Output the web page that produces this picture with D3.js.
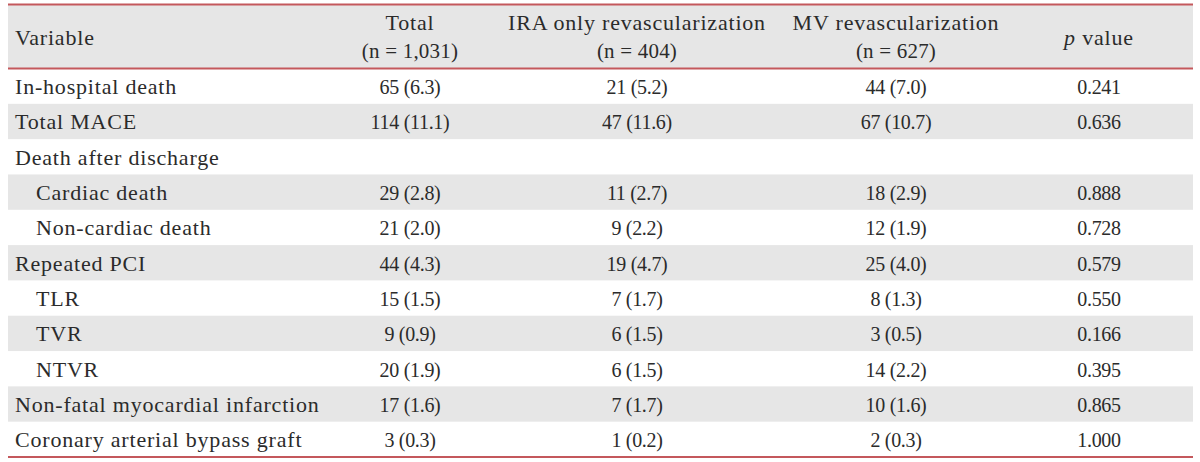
<!DOCTYPE html>
<html>
<head>
<meta charset="utf-8">
<script src="https://cdn.jsdelivr.net/npm/d3@7"></script>
<style>
  html, body { margin: 0; padding: 0; background: #ffffff; }
  svg { display: block; }
</style>
</head>
<body>
<svg id="chart" width="1200" height="462"></svg>
<script>
// ---- data ----
const headers = ["Variable", "Total", "IRA only revascularization", "MV revascularization", "p value"];
const headerSub = ["", "(n = 1,031)", "(n = 404)", "(n = 627)", ""];
const variables = [
  "In-hospital death", "Total MACE", "Death after discharge", "Cardiac death",
  "Non-cardiac death", "Repeated PCI", "TLR", "TVR", "NTVR",
  "Non-fatal myocardial infarction", "Coronary arterial bypass graft"
];
const indentLevel = [0, 0, 0, 1, 1, 0, 1, 1, 1, 0, 0];
const totalVals = ["65 (6.3)", "114 (11.1)", "", "29 (2.8)", "21 (2.0)", "44 (4.3)", "15 (1.5)", "9 (0.9)", "20 (1.9)", "17 (1.6)", "3 (0.3)"];
const iraVals   = ["21 (5.2)", "47 (11.6)", "", "11 (2.7)", "9 (2.2)", "19 (4.7)", "7 (1.7)", "6 (1.5)", "6 (1.5)", "7 (1.7)", "1 (0.2)"];
const mvVals    = ["44 (7.0)", "67 (10.7)", "", "18 (2.9)", "12 (1.9)", "25 (4.0)", "8 (1.3)", "3 (0.5)", "14 (2.2)", "10 (1.6)", "2 (0.3)"];
const pVals     = ["0.241", "0.636", "", "0.888", "0.728", "0.579", "0.550", "0.166", "0.395", "0.865", "1.000"];

// ---- layout ----
const svg = d3.select("#chart");
const left = 8, right = 1193;
const headTop = 4.5, headBottom = 68.5, tableBottom = 457;
const fontFam = "'Liberation Serif', 'Times New Roman', serif";
const fontSize = 22;
const numSize = 20;
const letterSp = 0.8;
const textColor = "#2b2b2b";
const lineColor = "#c4585c";
const shade = "#e6e6e6";

const rowIdx = d3.range(variables.length);
const y = d3.scaleBand().domain(rowIdx).range([headBottom, tableBottom]).padding(0);

const colKeys = ["total", "ira", "mv", "p"];
const colX = d3.scaleOrdinal().domain(colKeys).range([410, 637, 896, 1099]);
const colData = { total: totalVals, ira: iraVals, mv: mvVals, p: pVals };

// header background
svg.append("rect").attr("x", left).attr("y", headTop).attr("width", right - left)
  .attr("height", headBottom - headTop).attr("fill", shade);

// row backgrounds
svg.append("g").selectAll("rect").data(rowIdx.filter(i => i % 2 === 1)).join("rect")
  .attr("x", left).attr("width", right - left)
  .attr("y", i => y(i)).attr("height", y.bandwidth())
  .attr("fill", shade);

// lines
[headTop, headBottom, tableBottom].forEach(yy => {
  svg.append("line").attr("x1", left).attr("x2", right).attr("y1", yy).attr("y2", yy)
    .attr("stroke", lineColor).attr("stroke-width", 2);
});

const txt = (g) => g.attr("font-family", fontFam).attr("font-size", fontSize)
  .attr("fill", textColor).attr("letter-spacing", letterSp);

// header text
const hg = svg.append("g").call(txt);
hg.append("text").attr("x", 15).attr("y", 45).text(headers[0]);
colKeys.forEach((k, j) => {
  if (k === "p") {
    const t = hg.append("text").attr("x", colX(k)).attr("y", 45).attr("text-anchor", "middle");
    t.append("tspan").attr("font-style", "italic").text("p");
    t.append("tspan").text(" value");
  } else {
    hg.append("text").attr("x", colX(k)).attr("y", 30).attr("text-anchor", "middle").text(headers[j + 1]);
    hg.append("text").attr("x", colX(k)).attr("y", 58).attr("text-anchor", "middle")
      .attr("font-size", 21).attr("letter-spacing", 0.2).text(headerSub[j + 1]);
  }
});

// body text
const bg = svg.append("g").call(txt);
bg.selectAll("text.var").data(rowIdx).join("text").attr("class", "var")
  .attr("x", i => 15 + indentLevel[i] * 21)
  .attr("y", i => y(i) + y.bandwidth() / 2 + 8)
  .text(i => variables[i]);

colKeys.forEach(k => {
  bg.selectAll("text.c-" + k).data(rowIdx).join("text").attr("class", "c-" + k)
    .attr("x", colX(k))
    .attr("y", i => y(i) + y.bandwidth() / 2 + 8)
    .attr("text-anchor", "middle")
    .attr("font-size", numSize)
    .attr("letter-spacing", -0.3)
    .text(i => colData[k][i]);
});
</script>
</body>
</html>
